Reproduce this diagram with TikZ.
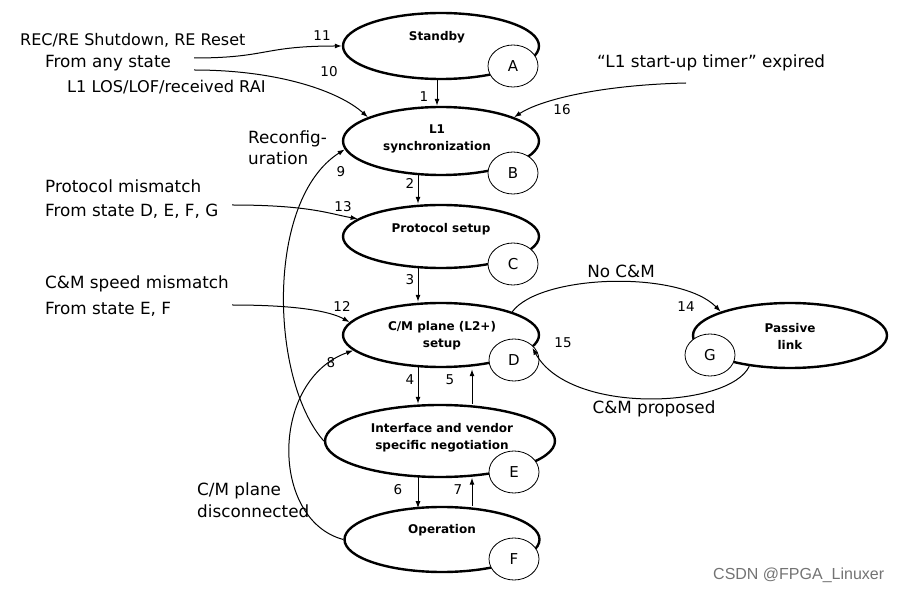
\documentclass[tikz,border=0pt]{standalone}
\usepackage{fontspec}
\setmainfont{DejaVu Sans}
\newfontfamily\wmfont{Liberation Sans}
\usetikzlibrary{shapes.geometric,arrows.meta,calc}
\tikzset{
  state/.style={ellipse, draw, line width=2.4pt, inner sep=0pt, fill=white},
  tag/.style={ellipse, draw, line width=0.8pt, fill=white, minimum width=50pt, minimum height=42pt, inner sep=0pt, font=\fontsize{15}{15}\selectfont},
  sname/.style={font=\bfseries\fontsize{12}{17}\selectfont, align=center, inner sep=0pt},
  txt/.style={font=\fontsize{16.8}{21.5}\selectfont, anchor=west, align=left, inner sep=0pt},
  num/.style={font=\fontsize{13.5}{13.5}\selectfont, inner sep=0pt},
  conn/.style={line width=1pt, -{Latex[length=7pt,width=5pt]}},
}
\begin{document}
\begin{tikzpicture}[x=1pt,y=-1pt]
\useasboundingbox (0,0) rectangle (900,593);
% states
\node[state, minimum width=196pt, minimum height=66pt] (sb) at (441,46) {};
\node[state, minimum width=196pt, minimum height=68pt] (l1) at (441,141) {};
\node[state, minimum width=196pt, minimum height=63pt] (ps) at (441,236.5) {};
\node[state, minimum width=196pt, minimum height=64pt] (cm) at (441,335) {};
\node[state, minimum width=230pt, minimum height=72pt] (ie) at (440,441) {};
\node[state, minimum width=195pt, minimum height=65pt] (op) at (442,539.5) {};
\node[state, minimum width=194pt, minimum height=65pt] (pl) at (790,335.5) {};
% state names
\node[sname] (tsb) at (437,37) {Standby};
\node[sname] (tl1) at (437,139) {L1\\synchronization};
\node[sname] (tps) at (441,229) {Protocol setup};
\node[sname] (tcm) at (442,336) {C/M plane (L2+)\\setup};
\node[sname] (tie) at (442,437.5) {Interface and vendor\\specific negotiation};
\node[sname] (top) at (442,530) {Operation};
\node[sname] (tpl) at (790,336) {Passive\\link};
% letter tags
\node[tag] (A) at (513,66) {A};
\node[tag] (B) at (513,173) {B};
\node[tag] (C) at (513,264) {C};
\node[tag] (D) at (514,360) {D};
\node[tag] (E) at (514,472) {E};
\node[tag] (F) at (514,559) {F};
\node[tag] (G) at (710,355) {G};
% vertical transitions
\draw[conn] ($(sb.south)+(-4,0)$) -- ($(l1.north)+(-4,0)$);
\draw[conn] ($(l1.south)+(-23,-1)$) -- ($(ps.north)+(-23,0)$);
\draw[conn] ($(ps.south)+(-23,-1)$) -- ($(cm.north)+(-23,0)$);
\draw[conn] ($(cm.south)+(-23,-1)$) -- ($(ie.north)+(-22,0)$);
\draw[conn] ($(ie.north)+(32,0)$) -- ($(cm.south)+(31,1)$);
\draw[conn] ($(ie.south)+(-22,-1)$) -- ($(op.south)+(-24,-65)$);
\draw[conn] ($(op.north)+(30,0)$) -- ($(ie.south)+(32,-0.5)$);
\node[num] (n1) at (424,97) {1};
\node[num] (n2) at (410,183) {2};
\node[num] (n3) at (410,280) {3};
\node[num] (n4) at (410,380) {4};
\node[num] (n5) at (450,380) {5};
\node[num] (n6) at (398,490) {6};
\node[num] (n7) at (458,490) {7};
% external texts
\node[txt, font=\fontsize{16}{21}\selectfont] (t11) at (20,40) {REC/RE Shutdown, RE Reset};
\node[txt] (tany) at (45,63) {From any state};
\node[txt, font=\fontsize{16.2}{21}\selectfont] (t10) at (67,87) {L1 LOS/LOF/received RAI};
\node[txt] (tre) at (248,147.5) {Reconfig-\\uration};
\node[txt] (t13a) at (45,186) {Protocol mismatch};
\node[txt] (t13b) at (45,211) {From state D, E, F, G};
\node[txt] (t12a) at (45,284) {C\&M speed mismatch};
\node[txt] (t12b) at (45,309) {From state E, F};
\node[txt] (t8) at (197,500) {C/M plane\\disconnected};
\node[txt] (t16) at (597,63) {“L1 start-up timer” expired};
\node[txt, anchor=center] (t14) at (621,271) {No C\&M};
\node[txt, anchor=center] (t15) at (654,409) {C\&M proposed};
% free ends
\coordinate (s11) at (194,58);
\coordinate (s10) at (194,70);
\coordinate (s16) at (686,83);
\coordinate (s13) at (232,205);
\coordinate (s12) at (232,305);
% curved transitions
\draw[conn] (s11) .. controls (268,58) and (262,46) .. (sb.west);
\draw[conn] (s10) .. controls (280,70) and (340,92) .. (l1.162);
\draw[conn] (s16) .. controls (600,85) and (540,100) .. (l1.18);
\draw[conn] (ie.west) .. controls (270,380) and (265,200) .. (l1.185);
\draw[conn] (op.west) .. controls (270,520) and (270,380) .. (cm.190);
\draw[conn] (s13) .. controls (310,205) and (330,214) .. (ps.168);
\draw[conn] (s12) .. controls (310,305) and (335,314) .. (cm.172);
\draw[conn] (cm.18) .. controls (540,274) and (680,270) .. (pl.161);
\draw[conn] (pl.217) .. controls (730,408) and (570,416) .. (cm.-8);
\node[num] (n8) at (331,363) {8};
\node[num] (n9) at (341,172) {9};
\node[num] (n10) at (329,72) {10};
\node[num] (n11) at (322,36) {11};
\node[num] (n12) at (342,306) {12};
\node[num] (n13) at (343,207) {13};
\node[num] (n14) at (686,307) {14};
\node[num] (n15) at (563,343) {15};
\node[num] (n16) at (562,110) {16};
% watermark
\node[font=\wmfont\fontsize{16}{16}\selectfont, text=black!55, anchor=west, inner sep=0pt] (wm) at (713,575) {CSDN @FPGA\_Linuxer};
\end{tikzpicture}
\end{document}
